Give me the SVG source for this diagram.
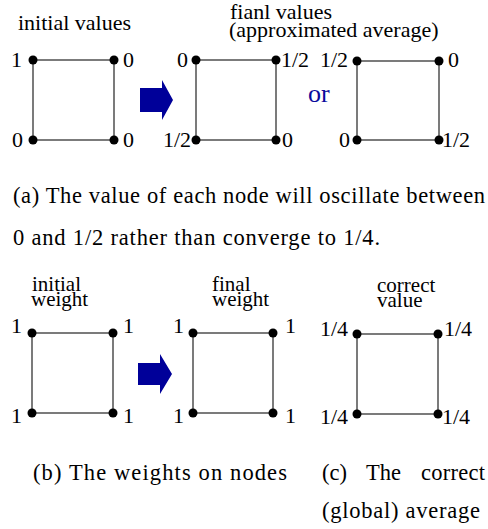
<svg xmlns="http://www.w3.org/2000/svg" width="488" height="529" viewBox="0 0 488 529" font-family="'Liberation Serif', Tinos, 'Times New Roman', Times, 'Nimbus Roman', serif">
<style>
text{font-family:'Liberation Serif',Tinos,'Times New Roman',Times,'Nimbus Roman',serif;fill:#000}
.lbl{font-size:22px}
.hd{font-size:22px}
.hd2{font-size:21px}
.cap{font-size:22.5px}
.edge{stroke:#444;stroke-width:1.4;fill:none}
.dot{fill:#000}
.arrow{fill:#000099}
</style>
<rect width="488" height="529" fill="#fff"/>
<g id="headings">
<text class="hd" x="18" y="30">initial values</text>
<text class="hd" x="230" y="19">fianl values</text>
<text class="hd" x="229" y="37">(approximated average)</text>
<text class="hd2" x="32" y="291">initial</text>
<text class="hd2" x="31" y="306">weight</text>
<text class="hd2" x="212" y="291">final</text>
<text class="hd2" x="212" y="306">weight</text>
<text class="hd2" x="377" y="292">correct</text>
<text class="hd2" x="377" y="307">value</text>
</g>
<g id="connectors">
<rect class="edge" x="33" y="60" width="81" height="80"/>
<rect class="edge" x="196" y="60" width="80" height="80"/>
<rect class="edge" x="357" y="61" width="82" height="79"/>
<rect class="edge" x="32" y="333" width="81" height="80"/>
<rect class="edge" x="193" y="333" width="80" height="80"/>
<rect class="edge" x="357" y="334" width="81" height="80"/>
</g>
<g id="arrows">
<polygon class="arrow" points="140,88 162,88 162,80 173,100 162,120 162,112 140,112"/>
<polygon class="arrow" points="138,363 160,363 160,354 172,374 160,394 160,385 138,385"/>
</g>
<g id="sq1a">
<circle class="dot" cx="33" cy="60" r="4.5"/><circle class="dot" cx="114" cy="60" r="4.5"/>
<circle class="dot" cx="33" cy="140" r="4.5"/><circle class="dot" cx="114" cy="140" r="4.5"/>
<text class="lbl" x="11" y="67">1</text><text class="lbl" x="123" y="67">0</text>
<text class="lbl" x="12" y="147">0</text><text class="lbl" x="123" y="147">0</text>
</g>
<g id="sq2a">
<circle class="dot" cx="196" cy="60" r="4.5"/><circle class="dot" cx="276" cy="60" r="4.5"/>
<circle class="dot" cx="196" cy="140" r="4.5"/><circle class="dot" cx="276" cy="140" r="4.5"/>
<text class="lbl" x="177" y="67">0</text><text class="lbl" x="281" y="67">1/2</text>
<text class="lbl" x="163" y="147">1/2</text><text class="lbl" x="282" y="147">0</text>
</g>
<g id="or"><text x="308" y="102" style="font-size:26px;fill:#0a0a9c">or</text></g>
<g id="sq3a">
<circle class="dot" cx="357" cy="61" r="4.5"/><circle class="dot" cx="439" cy="61" r="4.5"/>
<circle class="dot" cx="357" cy="140" r="4.5"/><circle class="dot" cx="439" cy="140" r="4.5"/>
<text class="lbl" x="320" y="67">1/2</text><text class="lbl" x="448" y="67">0</text>
<text class="lbl" x="339" y="147">0</text><text class="lbl" x="442" y="147">1/2</text>
</g>
<g id="sq1b">
<circle class="dot" cx="32" cy="333" r="4.5"/><circle class="dot" cx="113" cy="333" r="4.5"/>
<circle class="dot" cx="32" cy="413" r="4.5"/><circle class="dot" cx="113" cy="413" r="4.5"/>
<text class="lbl" x="11" y="333">1</text><text class="lbl" x="123" y="333">1</text>
<text class="lbl" x="11" y="423">1</text><text class="lbl" x="123" y="423">1</text>
</g>
<g id="sq2b">
<circle class="dot" cx="193" cy="333" r="4.5"/><circle class="dot" cx="273" cy="333" r="4.5"/>
<circle class="dot" cx="193" cy="413" r="4.5"/><circle class="dot" cx="273" cy="413" r="4.5"/>
<text class="lbl" x="173" y="333">1</text><text class="lbl" x="285" y="333">1</text>
<text class="lbl" x="173" y="423">1</text><text class="lbl" x="285" y="423">1</text>
</g>
<g id="sq3b">
<circle class="dot" cx="357" cy="334" r="4.5"/><circle class="dot" cx="438" cy="334" r="4.5"/>
<circle class="dot" cx="357" cy="414" r="4.5"/><circle class="dot" cx="438" cy="414" r="4.5"/>
<text class="lbl" x="320" y="336">1/4</text><text class="lbl" x="444" y="336">1/4</text>
<text class="lbl" x="320" y="424">1/4</text><text class="lbl" x="442" y="424">1/4</text>
</g>
<g id="captions">
<text class="cap" x="13" y="203" textLength="472" lengthAdjust="spacing">(a) The value of each node will oscillate between</text>
<text class="cap" x="13" y="245" textLength="367" lengthAdjust="spacing">0 and 1/2 rather than converge to 1/4.</text>
<text class="cap" x="33" y="480" textLength="254" lengthAdjust="spacing">(b) The weights on nodes</text>
<text class="cap" x="322" y="480">(c)</text>
<text class="cap" x="366" y="480">The</text>
<text class="cap" x="421" y="480" textLength="64" lengthAdjust="spacing">correct</text>
<text class="cap" x="322" y="518" textLength="158" lengthAdjust="spacing">(global) average</text>
</g>
</svg>
